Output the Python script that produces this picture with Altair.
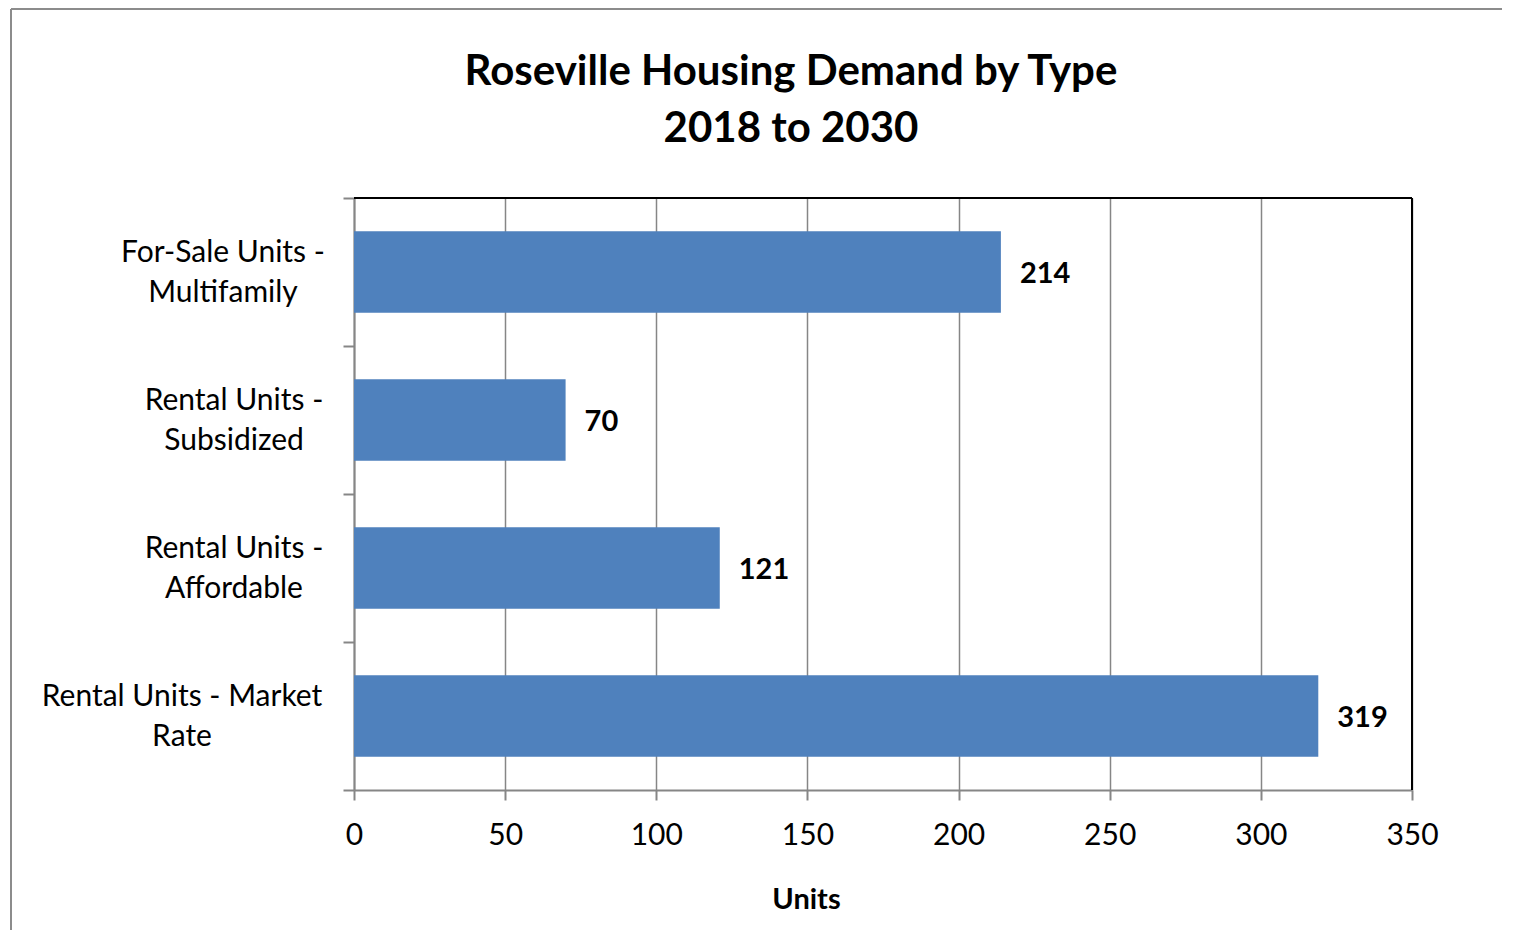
import altair as alt
import pandas as pd

categories = [
    "For-Sale Units -\nMultifamily",
    "Rental Units -\nSubsidized",
    "Rental Units -\nAffordable",
    "Rental Units - Market\nRate",
]
units = [214, 70, 121, 319]
x_ticks = [0, 50, 100, 150, 200, 250, 300, 350]

title_lines = ["Roseville Housing Demand by Type", "2018 to 2030"]
x_title = "Units"

df = pd.DataFrame({"category": categories, "units": units})

FONT = "Lato"
GREY = "#868686"
BAR = "#4F81BD"

x_scale = alt.Scale(domain=[0, 350], nice=False, zero=True)
y_scale = alt.Scale(paddingInner=0, paddingOuter=0)

x_enc = alt.X(
    "units:Q",
    scale=x_scale,
    title=x_title,
    axis=alt.Axis(
        values=x_ticks,
        grid=True,
        gridColor=GREY,
        gridWidth=1.5,
        domainColor=GREY,
        domainWidth=2,
        tickColor=GREY,
        tickWidth=2,
        tickSize=10,
        labelFont=FONT,
        labelFontSize=30,
        labelColor="black",
        labelPadding=20,
        labelFlush=False,
        titleFont=FONT,
        titleFontSize=29,
        titleFontWeight="bold",
        titleColor="black",
        titleX=452,
        titleY=118,
        titleBaseline="alphabetic",
    ),
)

y_enc = alt.Y(
    "category:N",
    sort=categories,
    title=None,
    scale=y_scale,
    axis=alt.Axis(
        tickBand="extent",
        tickSize=11,
        tickColor=GREY,
        tickWidth=2,
        domainColor=GREY,
        domainWidth=2,
        grid=False,
        labels=False,
    ),
)

base = alt.Chart(df)

bars = base.mark_bar(color=BAR, height=alt.RelativeBandSize(0.55)).encode(x=x_enc, y=y_enc)

value_labels = base.mark_text(
    align="left", baseline="middle", dx=19, dy=2, font=FONT, fontSize=29,
    fontWeight="bold", color="black",
).encode(x="units:Q", y=alt.Y("category:N", sort=categories), text="units:Q")


def cat_label(names, xpos):
    return base.transform_filter(
        alt.FieldOneOfPredicate(field="category", oneOf=names)
    ).mark_text(
        align="center", baseline="middle", dy=-19, lineBreak="\n", lineHeight=40,
        font=FONT, fontSize=30, color="black",
    ).encode(
        y=alt.Y("category:N", sort=categories),
        x=alt.value(xpos),
        text="category:N",
    )


lab_a = cat_label([categories[0]], -131)
lab_b = cat_label([categories[1], categories[2]], -120)
lab_c = cat_label([categories[3]], -172)

one = alt.Data(values=[{"a": 1}])

title_text = alt.Chart(one).mark_text(
    align="center", baseline="alphabetic", lineHeight=57,
    font=FONT, fontSize=42, fontWeight="bold", color="black",
).encode(x=alt.value(437), y=alt.value(-113), text=alt.value(title_lines))

top_border = alt.Chart(one).mark_rule(color="black", strokeWidth=2).encode(
    x=alt.datum(0), x2=alt.datum(350), y=alt.value(0)
)
right_border = alt.Chart(one).mark_rule(color="black", strokeWidth=2).encode(
    x=alt.datum(350), y=alt.value(0), y2=alt.value(592)
)

frame_top = alt.Chart(one).mark_rule(color="#8C8C8C", strokeWidth=2).encode(
    x=alt.value(-343), x2=alt.value(1300), y=alt.value(-189)
)
frame_left = alt.Chart(one).mark_rule(color="#8C8C8C", strokeWidth=2).encode(
    x=alt.value(-343), y=alt.value(-189), y2=alt.value(900)
)

chart = (
    alt.layer(bars, value_labels, lab_a, lab_b, lab_c, title_text,
              top_border, right_border, frame_top, frame_left)
    .properties(
        width=1058,
        height=592,
        autosize=alt.AutoSizeParams(type="none"),
        padding={"left": 346, "top": 190, "right": 90, "bottom": 140},
    )
    .configure_view(strokeWidth=0)
    .configure(background="white")
)

chart.save("out.html", embed_options={"renderer": "svg", "actions": False})
